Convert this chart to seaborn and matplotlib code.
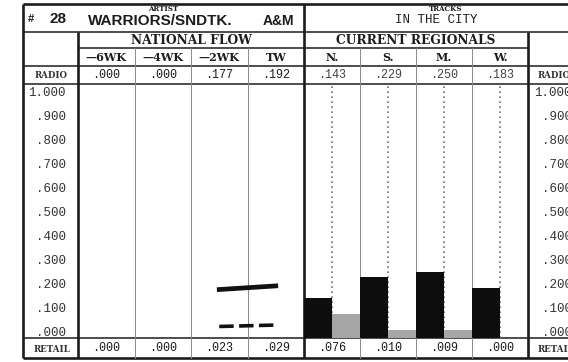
import numpy as np
import pandas as pd
import matplotlib
matplotlib.use("Agg")
import matplotlib.pyplot as plt
import seaborn as sns

# ---- chart data -------------------------------------------------------------
chart_no = "28"
artist = "WARRIORS/SNDTK."
record_label = "A&M"
weeks = ["\u20146WK", "\u20144WK", "\u20142WK", "TW"]
national_radio = [0.000, 0.000, 0.177, 0.192]
national_retail = [0.000, 0.000, 0.023, 0.029]
regions = ["N.", "S.", "M.", "W."]
regional_radio = [0.143, 0.229, 0.250, 0.183]
regional_retail = [0.076, 0.010, 0.009, 0.000]
tick_values = [1.0, 0.9, 0.8, 0.7, 0.6, 0.5, 0.4, 0.3, 0.2, 0.1, 0.0]
tick_labels = ["1.000", ".900", ".800", ".700", ".600", ".500",
               ".400", ".300", ".200", ".100", ".000"]

sns.set_style("white")
plt.rcParams["font.family"] = ["DejaVu Sans"]

W, H = 568, 362
fig = plt.figure(figsize=(W / 100, H / 100), dpi=100)
fig.patch.set_facecolor("white")

INK = "#1c1c1c"
GRID = "#8a8a8a"
SANS = "Liberation Sans"
SERIF = "DejaVu Serif"
MONO = "Liberation Mono"

# frame geometry (pixels)
X0, XL, XMID, XR, XE = 23, 78, 304, 528, 568
Y_TOP, Y_ART, Y_GRP, Y_HDR, Y_RAD, Y_PLOT, Y_BOT = 4, 32, 48, 66, 84, 338, 358
nat_w = (XMID - XL) / 4
reg_w = (XR - XMID) / 4


def fmt(v):
    return f"{v:.3f}".lstrip("0") if v < 1 else f"{v:.3f}"


# background axes in pixel units for the table frame and captions
bg = fig.add_axes([0, 0, 1, 1], zorder=0)
bg.set_xlim(0, W)
bg.set_ylim(H, 0)
bg.axis("off")

thick, mid, thin = 1.9, 1.1, 0.7
for y, x1, x2, lw in [(Y_TOP, X0, XE, thick), (Y_ART, X0, XE, mid),
                      (Y_GRP, XL, XR, mid), (Y_HDR, X0, XE, mid),
                      (Y_RAD, X0, XE, mid), (Y_PLOT, X0, XE, mid),
                      (Y_BOT, X0, XE, thick)]:
    bg.plot([x1, x2], [y, y], color=INK, lw=lw, solid_capstyle="butt")
for x, y1, y2, lw in [(X0, Y_TOP, Y_BOT, thick), (XL, Y_ART, Y_BOT, thick),
                      (XMID, Y_TOP, Y_BOT, thick), (XR, Y_ART, Y_BOT, thick)]:
    bg.plot([x, x], [y1, y2], color=INK, lw=lw, solid_capstyle="butt")
for i in range(1, 4):
    for x in (XL + i * nat_w, XMID + i * reg_w):
        bg.plot([x, x], [Y_GRP, Y_BOT], color=GRID, lw=thin)

# header captions
bg.text(31, 19, "#", fontfamily=SANS, fontweight="bold", fontsize=8,
        color=INK, ha="center", va="center")
bg.text(58, 19, chart_no, fontfamily=SANS, fontweight="bold", fontsize=11,
        color=INK, ha="center", va="center")
bg.text(163, 9, "ARTIST", fontfamily=SERIF, fontweight="bold", fontsize=5,
        color=INK, ha="center", va="center")
bg.text(88, 21, artist, fontfamily=SANS, fontweight="bold", fontsize=11,
        color=INK, ha="left", va="center")
bg.text(278, 21, record_label, fontfamily=SANS, fontweight="bold", fontsize=10,
        color=INK, ha="center", va="center")
bg.text(446, 9, "TRACKS", fontfamily=SERIF, fontweight="bold", fontsize=5,
        color=INK, ha="center", va="center")
bg.text(436, 20, "IN THE CITY", fontfamily=MONO, fontsize=9,
        color=INK, ha="center", va="center")
bg.text((XL + XMID) / 2, 40, "NATIONAL FLOW", fontfamily=SERIF,
        fontweight="bold", fontsize=8.8, color=INK, ha="center", va="center")
bg.text((XMID + XR) / 2, 40, "CURRENT REGIONALS", fontfamily=SERIF,
        fontweight="bold", fontsize=8.8, color=INK, ha="center", va="center")

for i, wk in enumerate(weeks):
    cx = XL + (i + 0.5) * nat_w
    bg.text(cx, 57.5, wk, fontfamily=SERIF, fontweight="bold", fontsize=8,
            color=INK, ha="center", va="center")
    bg.text(cx, 75.5, fmt(national_radio[i]), fontfamily=MONO, fontsize=8.5,
            color=INK, ha="center", va="center")
    bg.text(cx, 348, fmt(national_retail[i]), fontfamily=MONO, fontsize=8.5,
            color=INK, ha="center", va="center")
for i, rg in enumerate(regions):
    cx = XMID + (i + 0.5) * reg_w
    bg.text(cx, 57.5, rg, fontfamily=SERIF, fontweight="bold", fontsize=8,
            color=INK, ha="center", va="center")
    bg.text(cx, 75.5, fmt(regional_radio[i]), fontfamily=MONO, fontsize=8.5,
            color="#444444", ha="center", va="center")
    bg.text(cx, 348, fmt(regional_retail[i]), fontfamily=MONO, fontsize=8.5,
            color=INK, ha="center", va="center")

for x, ha in [((X0 + XL) / 2 + 1, "center"), (538, "left")]:
    bg.text(x, 75.5, "RADIO", fontfamily=SERIF, fontweight="bold",
            fontsize=6.2, color="#333333", ha=ha, va="center")
    bg.text(x, 349, "RETAIL", fontfamily=SERIF, fontweight="bold",
            fontsize=6.2, color="#333333", ha=ha, va="center")

# ---- data panels ------------------------------------------------------------
YLO = -0.025
YHI = 1.0333


def panel(x1, x2):
    ax = fig.add_axes([x1 / W, 1 - Y_PLOT / H, (x2 - x1) / W, (Y_PLOT - Y_RAD) / H],
                      zorder=1)
    ax.set_facecolor("none")
    for s in ax.spines.values():
        s.set_visible(False)
    ax.set_ylim(YLO, YHI)
    ax.set_xlim(-0.5, 3.5)
    ax.set_xticks([])
    return ax


# national flow: radio (solid) and retail (dashed) trend lines
ax_nat = panel(XL, XMID)
nat = pd.DataFrame({
    "pos": np.arange(len(weeks)),
    "radio": [v if v > 0 else np.nan for v in national_radio],
    "retail": [v if v > 0 else np.nan for v in national_retail],
})
sns.lineplot(data=nat, x="pos", y="radio", ax=ax_nat, color="#111111",
             lw=3.4, solid_capstyle="projecting")
sns.lineplot(data=nat, x="pos", y="retail", ax=ax_nat, color="#111111",
             lw=2.6, linestyle=(0, (4.0, 1.5)), dash_capstyle="butt")
ax_nat.set_xlim(-0.5, 3.5)
ax_nat.set_ylim(YLO, YHI)
ax_nat.set_xticks([])
ax_nat.set_xlabel("")
ax_nat.set_ylabel("")
ax_nat.set_yticks(tick_values, tick_labels)
ax_nat.tick_params(axis="y", length=0, pad=8.6)
for t in ax_nat.get_yticklabels():
    t.set_fontfamily(MONO)
    t.set_fontsize(9)
    t.set_color("#333333")

# current regionals: radio bar on the left half, retail bar on the right half
ax_reg = panel(XMID, XR)
ax_reg.vlines(np.arange(len(regions)), YLO, YHI, colors="#6f6f6f",
              linestyles=(0, (1, 2.0)), lw=1.2, zorder=0)
reg = pd.DataFrame({
    "region": regions * 2,
    "kind": ["radio"] * 4 + ["retail"] * 4,
    "value": regional_radio + regional_retail,
})
reg["height"] = [v - YLO if v > 0 else np.nan for v in reg["value"]]
sns.barplot(data=reg, x="region", y="height", hue="kind", order=regions,
            hue_order=["radio", "retail"],
            palette={"radio": "#0d0d0d", "retail": "#a6a6a6"},
            width=1.0, dodge=True, saturation=1, errorbar=None,
            legend=False, bottom=YLO, linewidth=0, ax=ax_reg, zorder=2)
ax_reg.set_xlim(-0.5, 3.5)
ax_reg.set_ylim(YLO, YHI)
ax_reg.set_xticks([])
ax_reg.set_xlabel("")
ax_reg.set_ylabel("")
ax_reg.yaxis.tick_right()
ax_reg.set_yticks(tick_values, tick_labels)
ax_reg.tick_params(axis="y", length=0, pad=31.7)
for t in ax_reg.get_yticklabels():
    t.set_fontfamily(MONO)
    t.set_fontsize(9)
    t.set_color("#333333")
    t.set_horizontalalignment("right")

fig.savefig("out.png", dpi=100, facecolor="white")
